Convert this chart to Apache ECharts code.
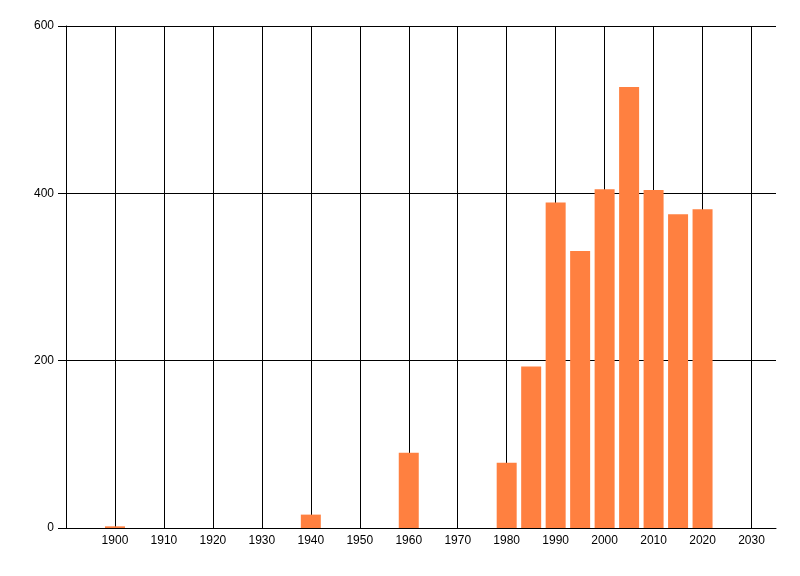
<!DOCTYPE html>
<html>
<head>
<meta charset="utf-8">
<script src="https://cdn.jsdelivr.net/npm/echarts@6/dist/echarts.min.js"></script>
<style>
html,body{margin:0;padding:0;background:#fff;}
#main{width:800px;height:576px;}
</style>
</head>
<body>
<div id="main"></div>
<script>
const years = [1900, 1940, 1960, 1980, 1985, 1990, 1995, 2000, 2005, 2010, 2015, 2020];
const values = [2, 16, 90, 78, 193, 389, 331, 405, 527, 404, 375, 381];
const yTicks = [0, 200, 400, 600];

const chart = echarts.init(document.getElementById('main'), null, {renderer: 'canvas'});
const font = '"Liberation Sans Narrow", "Liberation Sans", Arial, sans-serif';
chart.setOption({
  animation: false,
  backgroundColor: '#ffffff',
  grid: {left: 66, top: 26, right: 24, bottom: 48, containLabel: false},
  xAxis: {
    type: 'value',
    min: 1890,
    max: 2035,
    interval: 10,
    axisLine: {show: true, lineStyle: {color: '#000', width: 1}},
    axisTick: {show: false},
    axisLabel: {
      color: '#000', fontFamily: font, fontSize: 12, margin: 7,
      showMinLabel: false, showMaxLabel: false,
      formatter: v => (v % 10 === 0 && v > 1890 && v <= 2030) ? String(v) : ''
    },
    splitLine: {show: true, showMinLine: false, showMaxLine: false, lineStyle: {color: '#000', width: 1}}
  },
  yAxis: {
    type: 'value',
    min: yTicks[0],
    max: yTicks[yTicks.length - 1],
    interval: yTicks[1] - yTicks[0],
    axisLine: {show: true, lineStyle: {color: '#000', width: 1}},
    axisTick: {show: true, length: 8, inside: false, lineStyle: {color: '#000'}},
    axisLabel: {color: '#000', fontFamily: font, fontSize: 12, margin: 12},
    splitLine: {show: true, lineStyle: {color: '#000', width: 1}}
  },
  series: [{
    type: 'bar',
    data: years.map((y, i) => [y, values[i]]),
    barWidth: 20,
    itemStyle: {color: '#ff8040'},
    z: 3
  }]
});
</script>
</body>
</html>
